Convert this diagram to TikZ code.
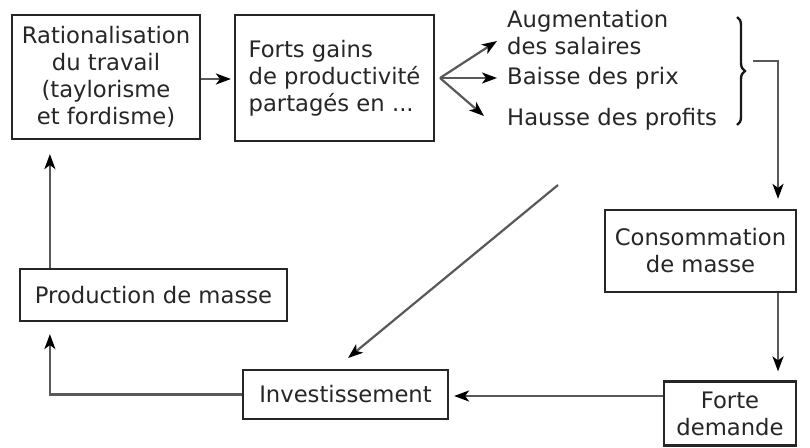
\documentclass[tikz,border=0pt]{standalone}
\usepackage{fontspec}
\setmainfont{DejaVu Sans}
\usetikzlibrary{arrows.meta,decorations.pathreplacing}
\begin{document}
\begin{tikzpicture}[x=1pt,y=-1pt,
  txt/.style={font=\fontsize{22.7}{27}\selectfont, text=black!85},
  box/.style={txt, draw=black!85, line width=2.2pt, inner sep=2pt, align=center},
  lbl/.style={txt, inner sep=0pt, anchor=west, align=left},
  conn/.style={draw=black!65, line width=2.2pt, -{Stealth[length=15pt,width=11pt,inset=4pt,black]}}]
\useasboundingbox (0,0) rectangle (810,447);
\fill[white] (0,0) rectangle (810,447);
% boxes
\node[box, minimum width=188pt, minimum height=124pt] (rat) at (106,77) {Rationalisation\\du travail\\(taylorisme\\et fordisme)};
\node[box, align=left, minimum width=199pt, minimum height=126pt] (gains) at (334.5,78) {Forts gains\\de productivité\\partagés en ...};
\node[box, minimum width=191pt, minimum height=82pt] (cons) at (700.5,251) {Consommation\\de masse};
\node[box, minimum width=132pt, minimum height=64pt] (forte) at (730,413.5) {Forte\\demande};
\node[box, minimum width=205pt, minimum height=49pt] (inv) at (345.5,394.5) {Investissement};
\node[box, minimum width=267pt, minimum height=52pt] (prod) at (153.5,295) {Production de masse};
% list
\node[lbl] (aug) at (507,33) {Augmentation\\des salaires};
\node[lbl] (baisse) at (507,78) {Baisse des prix};
\node[lbl] (hausse) at (507,119) {Hausse des profits};
% connectors
\draw[conn, shorten >=3pt] (rat.east |- 0,79) -- (gains.west |- 0,79);
\coordinate (fan) at (440,78);
\coordinate (t1) at (497,41);
\coordinate (t3) at (484,116);
\draw[conn] (fan) -- (t1);
\draw[conn, shorten >=10pt] (fan) -- (baisse.west);
\draw[conn] (fan) -- (t3);
% brace
\coordinate (bt) at (737,17);
\coordinate (bb) at (737,125);
\draw[black!90, line width=2.4pt, decorate, decoration={brace, amplitude=8pt}] (bt) -- (bb);
\coordinate (bo) at (753,61);
\coordinate (bc) at (778,61);
\draw[conn, shorten >=10pt] (bo) -- (bc) -- (bc |- cons.north);
\draw[conn, shorten >=9pt] (cons.south -| bc) -- (forte.north -| bc);
\draw[conn, shorten >=5pt] (forte.west |- 0,396) -- (inv.east |- 0,396);
\draw[conn, shorten >=12pt] (inv.west) -| ([xshift=31pt]prod.south west);
\draw[conn, shorten >=14pt] ([xshift=31pt]prod.north west) -- ([xshift=31pt]prod.north west |- rat.south);
\coordinate (ds) at (558,185);
\coordinate (dt) at (348,358);
\draw[conn] (ds) -- (dt);
\end{tikzpicture}
\end{document}
